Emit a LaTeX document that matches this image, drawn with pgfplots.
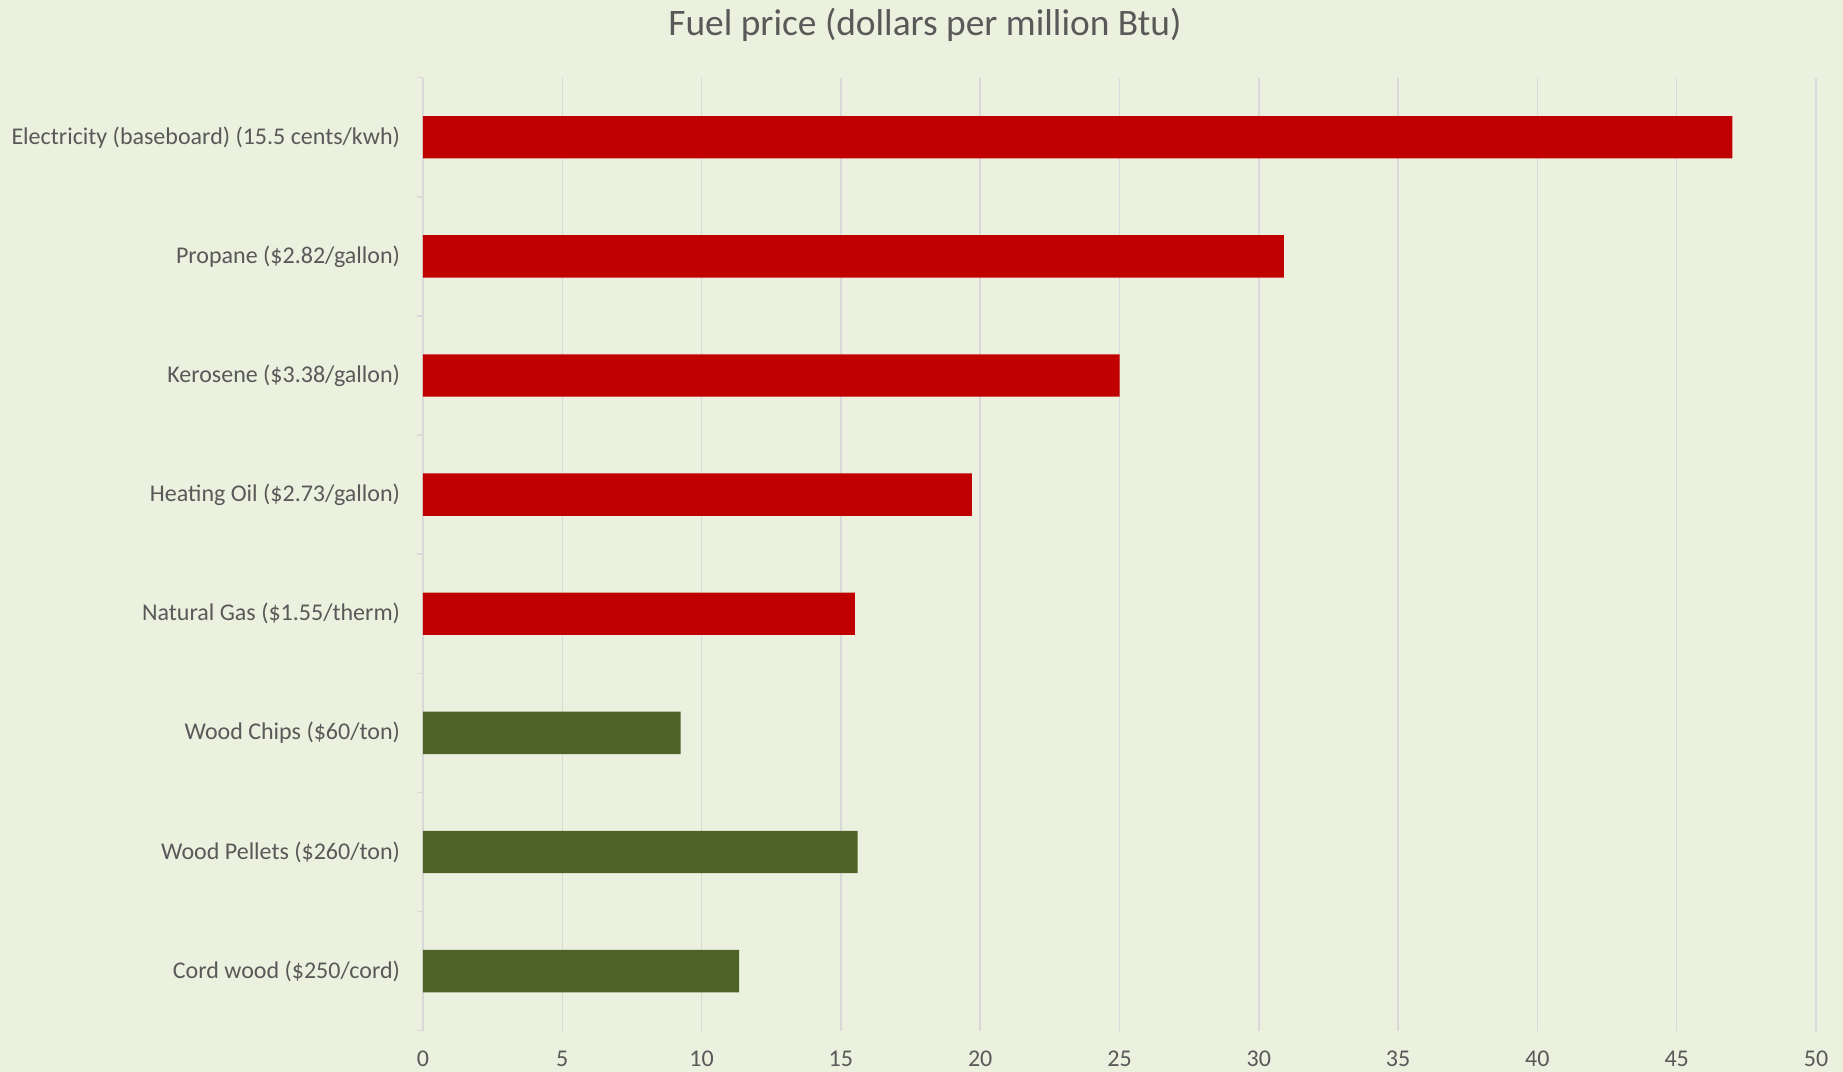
\documentclass[border=0pt]{standalone}
\usepackage{pgfplots}
\pgfplotsset{compat=1.18}
\usepackage{fontspec}
\setmainfont{Carlito}
\definecolor{bg}{HTML}{EBF1DE}
\definecolor{barred}{HTML}{C00000}
\definecolor{bargreen}{HTML}{4F6228}
\definecolor{gridc}{HTML}{D9D9D9}
\definecolor{txt}{HTML}{595959}
\begin{document}
\begin{tikzpicture}
\fill[bg] (0,0) rectangle (921.5bp,536bp);
\useasboundingbox (0,0) rectangle (921.5bp,536bp);
\node[text=txt,font=\fontsize{18.7bp}{22bp}\selectfont] at (462.5bp,523.5bp) {Fuel price (dollars per million Btu)};
\begin{axis}[
  at={(211.5bp,20.65bp)}, anchor=south west,
  scale only axis, width=696.5bp, height=476.5bp,
  xbar, bar width=21.2bp, bar shift=0pt,
  xmin=0, xmax=50, ymin=0.5, ymax=8.5,
  xtick={0,5,...,50},
  ytick={1,...,8},
  minor ytick={0.5,1.5,...,8.5},
  yticklabels={Cord wood (\$250/cord),Wood Pellets (\$260/ton),Wood Chips (\$60/ton),Natural Gas (\$1.55/therm),Heating Oil (\$2.73/gallon),Kerosene (\$3.38/gallon),Propane (\$2.82/gallon),Electricity (baseboard) (15.5 cents/kwh)},
  axis line style={draw=none},
  axis y line*=left,
  axis x line*=bottom,
  major tick length=0pt,
  minor tick length=3bp,
  ytick pos=left,
  xtick pos=bottom,
  tick style={gridc, line width=0.75bp},
  grid=none,
  xmajorgrids=true,
  major grid style={gridc, line width=0.75bp},
  tick align=outside,
  /pgf/number format/assume math mode=true,
  ticklabel style={font=\fontsize{12bp}{14bp}\selectfont, text=txt},
  yticklabel style={xshift=-8bp},
  xticklabel style={yshift=-6.8bp},
]
\draw[gridc, line width=0.75bp] (axis cs:0,0.5) -- (axis cs:0,8.5);
\addplot[fill=barred, draw=none] coordinates {(15.5,4) (19.7,5) (25.0,6) (30.9,7) (47.0,8)};
\addplot[fill=bargreen, draw=none] coordinates {(11.35,1) (15.6,2) (9.25,3)};
\end{axis}
\end{tikzpicture}
\end{document}
